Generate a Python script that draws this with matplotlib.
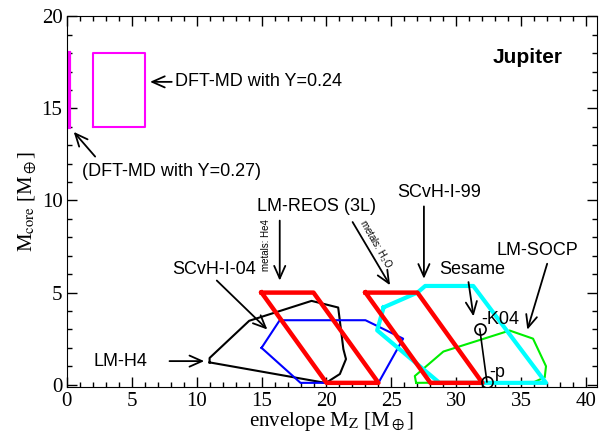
import matplotlib
matplotlib.use("Agg")
import matplotlib.pyplot as plt
from matplotlib.ticker import MultipleLocator

plt.rcParams['font.family'] = ['Liberation Serif', 'DejaVu Serif']
plt.rcParams['mathtext.fontset'] = 'stix'

# DFT-MD boxes (magenta)
dft24_x = [2, 6, 6, 2, 2]
dft24_y = [14, 14, 18, 18, 14]
dft27_x = [0.15, 0.15]
dft27_y = [14, 18]

# LM-REOS (3L), metals He4 / H2O (red)
reos_he_x = [15, 19, 24, 20, 15]
reos_he_y = [5, 5, 0.1, 0.1, 5]
reos_h2o_x = [23, 27, 32, 28, 23]
reos_h2o_y = [5, 5, 0.1, 0.1, 5]

# LM-H4 (black)
h4_x = [11, 11, 14.05, 18.85, 20.9, 21.3, 21.5, 21.03, 20.1, 19.9, 11]
h4_y = [1.21, 1.45, 3.47, 4.55, 4.19, 1.93, 1.39, 0.58, 0.16, 0.1, 1.21]

# SCvH-I-04 (blue)
scvh04_x = [15, 16.4, 23, 25.9, 24, 18, 15]
scvh04_y = [2.0, 3.5, 3.5, 2.5, 0.1, 0.1, 2.0]

# SCvH-I-99 (cyan)
scvh99_x = [24.4, 27.0, 27.6, 31.3, 36.9, 28.7, 23.9, 24.4]
scvh99_y = [4.2, 5.0, 5.36, 5.36, 0.1, 0.1, 2.95, 4.2]

# LM-SOCP (green)
socp_x = [26.9, 26.8, 29.0, 34.1, 35.9, 36.9, 36.8, 36.0, 26.9]
socp_y = [0.1, 0.47, 1.8, 2.94, 2.5, 1.0, 0.4, 0.15, 0.1]

# Sesame K04 and p
sesame_x = [31.8, 32.35]
sesame_y = [3.02, 0.16]

fig = plt.figure(figsize=(6.01, 4.38), dpi=100)
ax = fig.add_axes([0.111, 0.1175, 0.8818, 0.8453])

ax.plot(dft27_x, dft27_y, color='#ff00ff', lw=3)
ax.plot(dft24_x, dft24_y, color='#ff00ff', lw=1.5)
ax.plot(h4_x, h4_y, color='black', lw=1.5)
ax.plot(scvh04_x, scvh04_y, color='#0000ff', lw=1.5)
ax.plot(socp_x, socp_y, color='#00ee00', lw=1.5)
ax.plot(scvh99_x, scvh99_y, color='#00ffff', lw=3)
ax.plot(reos_he_x, reos_he_y, color='#ff0000', lw=3.2)
ax.plot(reos_h2o_x, reos_h2o_y, color='#ff0000', lw=3.2)
ax.plot(sesame_x, sesame_y, color='black', lw=1.2, marker='o', ms=8,
        mfc='none', mec='black', mew=1.2)

ax.set_xlim(0, 40.8)
ax.set_ylim(-0.1, 20)
ax.xaxis.set_major_locator(MultipleLocator(5))
ax.xaxis.set_minor_locator(MultipleLocator(1))
ax.yaxis.set_major_locator(MultipleLocator(5))
ax.yaxis.set_minor_locator(MultipleLocator(1))
ax.tick_params(which='both', direction='in', top=True, right=True, labelsize=15)
ax.tick_params(which='major', length=7, width=1)
ax.tick_params(which='minor', length=3.5, width=1)
ax.tick_params(axis='x', pad=4)
ax.tick_params(axis='y', pad=3)

ax.set_xlabel(r'envelope M$_{\rm Z}$ [M$_\oplus$]', fontsize=15, labelpad=-0.5)
ax.set_ylabel(r'M$_{\rm core}$ [M$_\oplus$]', fontsize=15, labelpad=2)

sans = ['Liberation Sans', 'DejaVu Sans']
arrow = dict(arrowstyle='->,head_length=0.9,head_width=0.4', color='black', lw=1.3)

def arr(tip, tail):
    ax.annotate('', xy=tip, xytext=tail, arrowprops=arrow)

ax.text(35.5, 17.74, 'Jupiter', family=sans, fontsize=15, weight='bold',
        ha='center', va='center')

ax.text(8.3, 16.44, 'DFT-MD with Y=0.24', family=sans, fontsize=13, va='center')
arr((6.2, 16.44), (8.3, 16.44))

ax.text(1.2, 11.57, '(DFT-MD with Y=0.27)', family=sans, fontsize=13, va='center')
arr((0.4, 13.84), (2.33, 12.27))

ax.text(4.1, 1.28, 'LM-H4', family=sans, fontsize=13, ha='center', va='center')
arr((10.8, 1.28), (7.7, 1.28))

ax.text(11.35, 6.26, 'SCvH-I-04', family=sans, fontsize=13, ha='center', va='center')
arr((15.6, 2.89), (11.4, 5.76))

ax.text(19.25, 9.67, 'LM-REOS (3L)', family=sans, fontsize=13, ha='center', va='center')
arr((16.4, 5.5), (16.4, 9.06))
arr((25.0, 5.27), (21.9, 8.96))
ax.text(15.38, 7.57, 'metals: He4', family=sans, fontsize=7, rotation=90,
        ha='center', va='center')
ax.text(23.75, 7.62, 'metals: H$_2$O', family=sans, fontsize=7, rotation=-60,
        ha='center', va='center')

ax.text(28.7, 10.43, 'SCvH-I-99', family=sans, fontsize=13, ha='center', va='center')
arr((27.5, 5.6), (27.5, 9.83))

ax.text(31.25, 6.26, 'Sesame', family=sans, fontsize=13, ha='center', va='center')
arr((31.35, 3.56), (30.9, 5.72))

ax.text(36.2, 7.26, 'LM-SOCP', family=sans, fontsize=13, ha='center', va='center')
arr((35.4, 2.84), (37.05, 6.71))

ax.text(31.9, 3.55, '-K04', family=sans, fontsize=13, va='center')
ax.text(32.5, 0.65, '-p', family=sans, fontsize=13, va='center')

fig.savefig('out.png', dpi=100)
